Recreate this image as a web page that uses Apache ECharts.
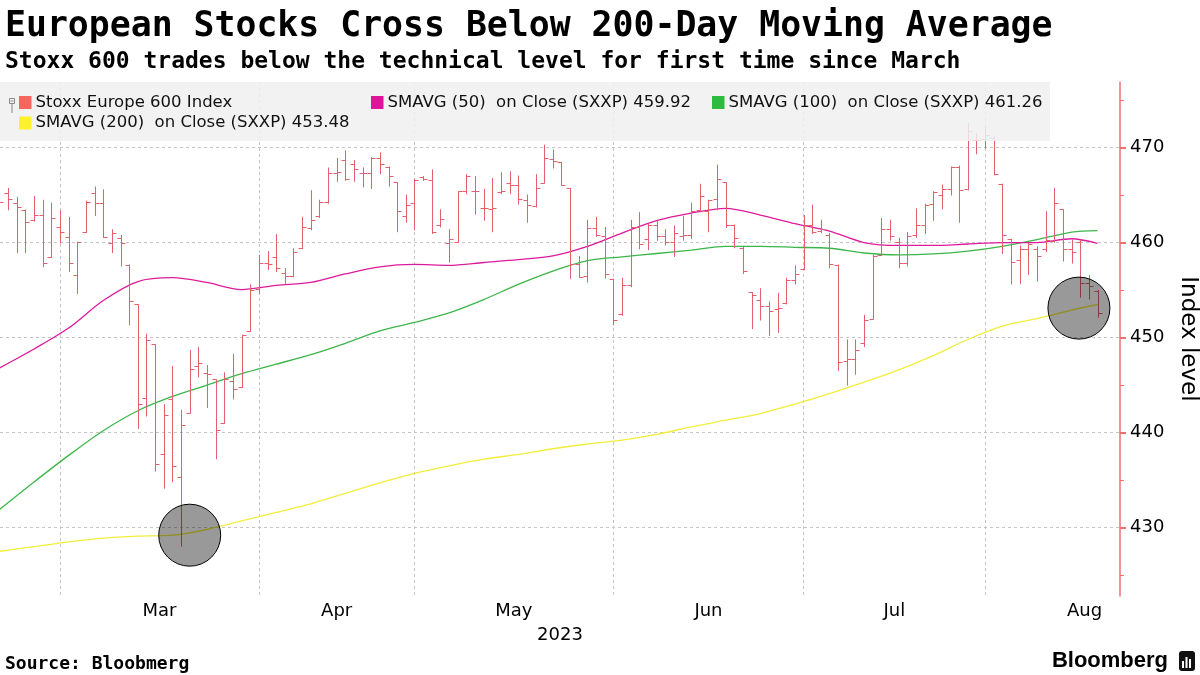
<!DOCTYPE html>
<html><head><meta charset="utf-8">
<script src="https://cdn.jsdelivr.net/npm/echarts@6/dist/echarts.min.js"></script>
<style>html,body{margin:0;padding:0;background:#fff}#c{width:1200px;height:675px}</style>
</head><body><div id="c"></div>
<script>
// ---------------- DATA ----------------
const dates = [
 '2023-02-20','2023-02-21','2023-02-22','2023-02-23','2023-02-24','2023-02-27','2023-02-28',
 '2023-03-01','2023-03-02','2023-03-03','2023-03-06','2023-03-07','2023-03-08','2023-03-09','2023-03-10',
 '2023-03-13','2023-03-14','2023-03-15','2023-03-16','2023-03-17','2023-03-20','2023-03-21','2023-03-22',
 '2023-03-23','2023-03-24','2023-03-27','2023-03-28','2023-03-29','2023-03-30','2023-03-31',
 '2023-04-03','2023-04-04','2023-04-05','2023-04-06','2023-04-11','2023-04-12','2023-04-13','2023-04-14',
 '2023-04-17','2023-04-18','2023-04-19','2023-04-20','2023-04-21','2023-04-24','2023-04-25','2023-04-26',
 '2023-04-27','2023-04-28',
 '2023-05-01','2023-05-02','2023-05-03','2023-05-04','2023-05-05','2023-05-08','2023-05-09','2023-05-10',
 '2023-05-11','2023-05-12','2023-05-15','2023-05-16','2023-05-17','2023-05-18','2023-05-19','2023-05-22',
 '2023-05-23','2023-05-24','2023-05-25','2023-05-26','2023-05-29','2023-05-30','2023-05-31',
 '2023-06-01','2023-06-02','2023-06-05','2023-06-06','2023-06-07','2023-06-08','2023-06-09','2023-06-12',
 '2023-06-13','2023-06-14','2023-06-15','2023-06-16','2023-06-19','2023-06-20','2023-06-21','2023-06-22',
 '2023-06-23','2023-06-26','2023-06-27','2023-06-28','2023-06-29','2023-06-30',
 '2023-07-03','2023-07-04','2023-07-05','2023-07-06','2023-07-07','2023-07-10','2023-07-11','2023-07-12',
 '2023-07-13','2023-07-14','2023-07-17','2023-07-18','2023-07-19','2023-07-20','2023-07-21','2023-07-24',
 '2023-07-25','2023-07-26','2023-07-27','2023-07-28','2023-07-31',
 '2023-08-01','2023-08-02','2023-08-03','2023-08-04','2023-08-07','2023-08-08','2023-08-09','2023-08-10',
 '2023-08-11','2023-08-14','2023-08-15','2023-08-16','2023-08-17','2023-08-18'
];
const open = [
 463.8,465.2,464.2,463.4,462.4,462.9,458.5,
 461.6,460.6,456.6,461.1,465.2,464.2,460.0,460.5,
 457.6,453.5,443.6,449.3,437.7,443.5,435.3,442.1,
 447.0,446.3,445.6,441.0,445.4,444.8,450.7,
 455.1,457.9,458.5,456.8,456.5,459.4,461.5,462.8,
 464.3,467.3,468.7,468.3,467.3,467.3,468.9,468.0,
 466.35,462.8,
 464.2,466.9,466.6,461.8,460.0,460.1,465.4,465.4,
 463.65,463.5,465.3,466.3,466.1,464.5,463.8,466.3,
 468.8,468.5,465.75,457.7,456.5,461.5,460.7,
 456.2,452.5,455.5,461.6,460.4,461.8,460.7,460.1,
 460.7,460.8,463.4,463.3,464.6,466.35,461.8,459.4,
 454.8,454.0,453.3,453.0,453.6,456.1,
 457.2,461.9,461.2,460.8,457.6,447.5,447.7,449.4,
 452.0,458.7,461.4,460.1,457.8,460.8,461.9,464.1,
 465.05,465.6,468.0,465.6,470.8,
 470.9,471.0,466.2,460.4,458.2,459.3,459.3,459.3,
 460.2,463.5,459.3,460.1,455.7,454.9
];
const high = [
 465.4,465.75,464.8,463.5,464.9,464.5,464.2,
 463.4,462.7,460.1,464.4,465.9,465.6,461.4,460.8,
 457.7,453.5,450.4,449.3,443.0,447.0,442.4,448.7,
 449.0,447.1,445.6,446.35,448.3,450.3,455.6,
 458.7,459.1,460.9,457.3,459.4,462.7,465.5,464.5,
 467.9,468.9,469.7,468.7,467.9,469.0,469.5,468.0,
 466.35,465.05,
 466.7,467.0,467.7,463.5,461.4,465.4,467.2,467.0,
 465.65,466.8,467.4,467.5,467.05,465.05,467.2,470.3,
 469.8,468.5,465.75,458.6,462.4,462.7,461.65,
 456.2,456.3,462.4,463.2,462.0,462.4,461.4,461.8,
 462.8,464.2,466.2,464.5,468.2,466.35,461.9,459.6,
 454.8,455.2,453.8,454.7,456.3,457.6,
 462.9,464.0,462.4,461.0,457.7,449.8,449.8,452.4,
 458.7,462.6,462.4,460.5,461.1,463.6,464.1,465.4,
 466.1,468.0,468.1,472.6,471.5,
 472.2,471.2,466.2,460.4,459.7,460.0,459.6,463.3,
 465.75,463.5,460.3,460.3,456.6,455.0
];
const low = [
 459.6,463.5,459.0,459.0,462.3,457.5,458.5,
 460.0,457.0,454.7,461.1,462.9,460.6,459.0,457.6,
 451.4,440.5,441.8,436.0,434.2,434.9,428.1,442.1,
 445.9,442.7,437.3,441.0,443.6,444.8,450.7,
 454.7,457.2,457.0,455.7,456.45,459.4,461.4,462.7,
 464.2,466.5,466.6,466.5,465.9,465.75,467.3,466.0,
 461.2,462.2,
 461.4,466.6,461.0,461.7,458.0,460.1,465.2,463.05,
 462.4,461.2,465.2,465.2,464.1,462.2,463.8,466.3,
 467.9,466.1,456.3,456.4,455.9,460.7,456.3,
 451.4,452.4,455.4,459.4,459.3,460.3,459.8,458.6,
 460.3,460.5,463.3,461.2,463.5,461.65,459.5,456.8,
 451.0,451.9,450.3,450.6,453.6,455.7,
 457.2,461.0,461.1,457.4,446.6,445.05,446.2,449.1,
 452.0,458.7,460.3,457.4,457.6,460.6,461.0,462.4,
 463.6,465.05,462.2,465.6,469.4,
 470.0,467.2,458.9,455.7,455.75,456.7,456.0,459.1,
 460.1,458.1,457.9,454.3,454.1,452.2
];
const close = [
 464.3,464.6,463.75,462.2,462.9,457.8,462.6,
 461.1,457.8,460.1,464.3,464.2,460.6,461.0,460.0,
 453.8,443.05,449.7,436.7,441.9,436.5,440.8,446.7,
 447.3,446.2,440.3,445.6,444.6,450.3,455.05,
 457.9,457.7,457.3,456.5,459.0,461.6,462.4,464.3,
 467.3,467.4,466.7,467.75,467.3,468.9,468.3,467.05,
 463.3,464.0,
 466.6,466.7,461.1,462.5,460.4,465.4,467.0,465.4,
 463.65,463.65,465.4,466.1,464.6,464.0,465.75,468.9,
 468.6,466.1,457.7,456.4,461.5,460.8,456.7,
 451.9,455.5,461.6,459.8,461.8,460.7,460.1,461.0,
 460.8,463.3,464.9,464.5,466.7,461.9,460.5,457.0,
 454.5,453.3,452.8,453.1,456.1,456.7,
 461.9,461.1,461.4,457.7,447.4,447.7,448.7,451.9,
 458.6,461.4,460.7,457.9,460.7,461.9,464.0,465.3,
 465.6,468.0,465.5,471.7,470.8,
 471.3,467.2,460.8,458.0,459.3,459.8,458.6,460.3,
 464.2,459.3,459.0,455.7,455.4,452.6
];
// Moving averages, read at every 4th trading day (index into dates)
const maIdx  = [0,4,8,12,16,20,24,28,32,36,40,44,48,52,56,60,64,68,72,76,80,84,88,92,96,100,104,108,112,116,120,124,127];
const sma50  = [446.8,448.8,451.0,453.9,455.9,456.3,455.8,455.05,455.5,455.8,456.7,457.45,457.7,457.6,457.9,458.2,458.6,459.6,461.0,462.3,463.1,463.6,462.9,462.0,461.2,460.0,459.7,459.7,459.85,460.0,460.0,460.4,459.92];
const sma100 = [431.9,434.8,437.6,440.2,442.3,443.8,445.0,446.2,447.2,448.2,449.4,450.7,451.6,452.6,454.0,455.6,457.0,458.1,458.5,458.85,459.2,459.6,459.6,459.5,459.4,458.9,458.7,458.8,459.1,459.6,460.3,461.1,461.26];
const sma200 = [427.5,428.0,428.5,428.9,429.1,429.2,429.8,430.7,431.6,432.5,433.6,434.7,435.7,436.5,437.2,437.7,438.3,438.8,439.2,439.8,440.6,441.3,442.0,443.0,444.1,445.3,446.6,448.1,449.8,451.2,452.0,452.9,453.48];
// highlighted spots (index into dates, level)
const circleIdx = [22, 124.85];
const circleVal = [429.2, 453.1];
// axis ticks / labels
const yTicks = [430, 440, 450, 460, 470];
const yMinorTicks = [425, 435, 445, 455, 465, 475];
const monthNames = ['Jan','Feb','Mar','Apr','May','Jun','Jul','Aug','Sep','Oct','Nov','Dec'];
const lastMonthTradingDays = 23;
const yearLabel = '2023';
const legendLabels = ['Stoxx Europe 600 Index','SMAVG (50)  on Close (SXXP) 459.92','SMAVG (100)  on Close (SXXP) 461.26','SMAVG (200)  on Close (SXXP) 453.48'];
const titleText = 'European Stocks Cross Below 200-Day Moving Average';
const subtitleText = 'Stoxx 600 trades below the technical level for first time since March';
const sourceText = 'Source: Bloobmerg';

// ---------------- STYLE ----------------
const C_BAR = '#e35f69', C50 = '#de1a9c', C100 = '#3cb64b', C200 = '#f2ee3a';
const LEG = ['#f7665e', '#e0119b', '#2dbb3f', '#fff22a'];
const AXIS_RED = '#ec7072';
const GRID_C = '#c4c4c4';
const SANS = '"DejaVu Sans", Verdana, sans-serif';
const MONO = '"DejaVu Sans Mono", monospace';

// month starts & label positions
const monthStarts = [];
for (let i = 1; i < dates.length; i++) {
  if (dates[i].slice(5,7) !== dates[i-1].slice(5,7)) monthStarts.push(i);
}
const labelPos = [], labelMap = {};
monthStarts.forEach((s, k) => {
  const e = k + 1 < monthStarts.length ? monthStarts[k+1] : s + lastMonthTradingDays;
  const p = (s + e) / 2;
  labelPos.push(p);
  labelMap[p.toFixed(2)] = monthNames[parseInt(dates[s].slice(5,7), 10) - 1];
});

const ohlc = dates.map((d, i) => [i, open[i], high[i], low[i], close[i]]);
const ma = arr => maIdx.map((x, k) => [x, arr[k]]);

function renderBar(params, api) {
  const i = api.value(0);
  const pO = api.coord([i, api.value(1)]);
  const pH = api.coord([i, api.value(2)]);
  const pL = api.coord([i, api.value(3)]);
  const pC = api.coord([i, api.value(4)]);
  const x = Math.round(pO[0]) + 0.5;
  const yo = Math.round(pO[1]) + 0.5, yc = Math.round(pC[1]) + 0.5;
  return { type: 'group', children: [
    { type: 'line', shape: { x1: x, y1: pH[1], x2: x, y2: pL[1] + 1 }, style: { stroke: C_BAR, lineWidth: 1 } },
    { type: 'line', shape: { x1: x - 4, y1: yo, x2: x, y2: yo }, style: { stroke: C_BAR, lineWidth: 1 } },
    { type: 'line', shape: { x1: x, y1: yc, x2: x + 4, y2: yc }, style: { stroke: C_BAR, lineWidth: 1 } }
  ]};
}

const legendGraphics = [
  { type: 'rect', shape: { x: 0, y: 82, width: 1050, height: 59 }, style: { fill: 'rgba(240,240,240,0.86)' }, z: 100 },
  // collapse icon
  { type: 'rect', shape: { x: 9.5, y: 98.5, width: 5, height: 5 }, style: { fill: 'none', stroke: '#888', lineWidth: 1 }, z: 101 },
  { type: 'line', shape: { x1: 12, y1: 103.5, x2: 12, y2: 113 }, style: { stroke: '#888', lineWidth: 1 }, z: 101 },
  { type: 'line', shape: { x1: 10.5, y1: 101, x2: 13.5, y2: 101 }, style: { stroke: '#888', lineWidth: 1 }, z: 101 }
];
const legendPos = [[19, 102.5], [371, 102.5], [712, 102.5], [19, 123]];
legendPos.forEach((p, k) => {
  legendGraphics.push({ type: 'rect', shape: { x: p[0], y: p[1] - 6.5, width: 12.5, height: 13 }, style: { fill: LEG[k] }, z: 101 });
  legendGraphics.push({ type: 'text', x: p[0] + 16.5, y: p[1], style: { text: legendLabels[k], fill: '#111', fontSize: 16.5, fontFamily: SANS, verticalAlign: 'middle', align: 'left' }, z: 101 });
});
// logo
legendGraphics.push(
  { type: 'text', x: 1168, y: 661, style: { text: 'Bloomberg', fill: '#000', fontSize: 22, fontWeight: 'bold', fontFamily: '"Liberation Sans", Arial, sans-serif', align: 'right', verticalAlign: 'middle' } },
  { type: 'rect', shape: { x: 1179, y: 651, width: 16, height: 20, r: 3 }, style: { fill: '#111' } },
  { type: 'rect', shape: { x: 1182, y: 661, width: 2, height: 7 }, style: { fill: '#fff' } },
  { type: 'rect', shape: { x: 1185.5, y: 657, width: 2, height: 11 }, style: { fill: '#fff' } },
  { type: 'rect', shape: { x: 1189, y: 659, width: 2, height: 9 }, style: { fill: '#fff' } }
);

const chart = echarts.init(document.getElementById('c'), null, { renderer: 'canvas' });
chart.setOption({
  animation: false,
  backgroundColor: '#fff',
  title: [
    { text: titleText, left: 5, top: 9, padding: 0, textStyle: { fontFamily: MONO, fontWeight: 'bold', fontSize: 34.8, color: '#000' } },
    { text: subtitleText, left: 5, top: 51, padding: 0, textStyle: { fontFamily: MONO, fontWeight: 'bold', fontSize: 23, color: '#000' } },
    { text: sourceText, left: 5, top: 655, padding: 0, textStyle: { fontFamily: MONO, fontWeight: 'bold', fontSize: 18, color: '#000' } }
  ],
  grid: { left: 0, right: 80, top: 82, bottom: 79, containLabel: false, outerBoundsMode: 'none' },
  xAxis: {
    type: 'value', min: 0.06, max: 129.6,
    axisLine: { show: false },
    axisTick: { show: false, customValues: monthStarts },
    splitLine: { show: true, lineStyle: { color: GRID_C, type: [3, 3], width: 1 } },
    axisLabel: { customValues: labelPos, formatter: v => labelMap[v.toFixed(2)] || '', fontSize: 18, color: '#000', fontFamily: SANS, margin: 6 },
    name: yearLabel, nameLocation: 'middle', nameGap: 30,
    nameTextStyle: { fontSize: 18, color: '#000', fontFamily: SANS }
  },
  yAxis: [{
    type: 'value', position: 'right', min: 422.8, max: 476.9,
    axisLine: { show: true, lineStyle: { color: AXIS_RED, width: 1.5 } },
    axisTick: { show: true, customValues: yTicks, length: 6, lineStyle: { color: AXIS_RED, width: 2 } },
    axisLabel: { customValues: yTicks, fontSize: 18, color: '#000', fontFamily: SANS, margin: 10 },
    splitLine: { show: true, lineStyle: { color: GRID_C, type: [3, 3], width: 1 } },
    name: 'Index level', nameLocation: 'middle', nameRotate: -90, nameGap: 56,
    nameTextStyle: { fontSize: 23, color: '#000', fontFamily: SANS }
  }, {
    type: 'value', position: 'right', min: 422.8, max: 476.9,
    axisLine: { show: false },
    axisTick: { show: true, customValues: yMinorTicks, length: 4, lineStyle: { color: AXIS_RED, width: 1 } },
    axisLabel: { show: false },
    splitLine: { show: false }
  }],
  graphic: legendGraphics,
  series: [
    { type: 'line', name: 'SMAVG (200)', data: ma(sma200), smooth: 0.3, symbol: 'none', lineStyle: { color: C200, width: 1.3 }, z: 3 },
    { type: 'line', name: 'SMAVG (100)', data: ma(sma100), smooth: 0.3, symbol: 'none', lineStyle: { color: C100, width: 1.3 }, z: 3 },
    { type: 'line', name: 'SMAVG (50)', data: ma(sma50), smooth: 0.3, symbol: 'none', lineStyle: { color: C50, width: 1.3 }, z: 3 },
    { type: 'custom', name: 'Stoxx Europe 600 Index', data: ohlc, renderItem: renderBar, clip: true,
      dimensions: ['i', 'open', 'high', 'low', 'close'], encode: { x: 0, y: [1, 2, 3, 4] }, z: 4 },
    { type: 'scatter', data: circleIdx.map((x, k) => [x, circleVal[k]]), symbol: 'circle', symbolSize: 62,
      itemStyle: { color: 'rgba(0,0,0,0.4)', borderColor: '#000', borderWidth: 1, opacity: 1 }, z: 5, silent: true }
  ]
});
</script></body></html>
